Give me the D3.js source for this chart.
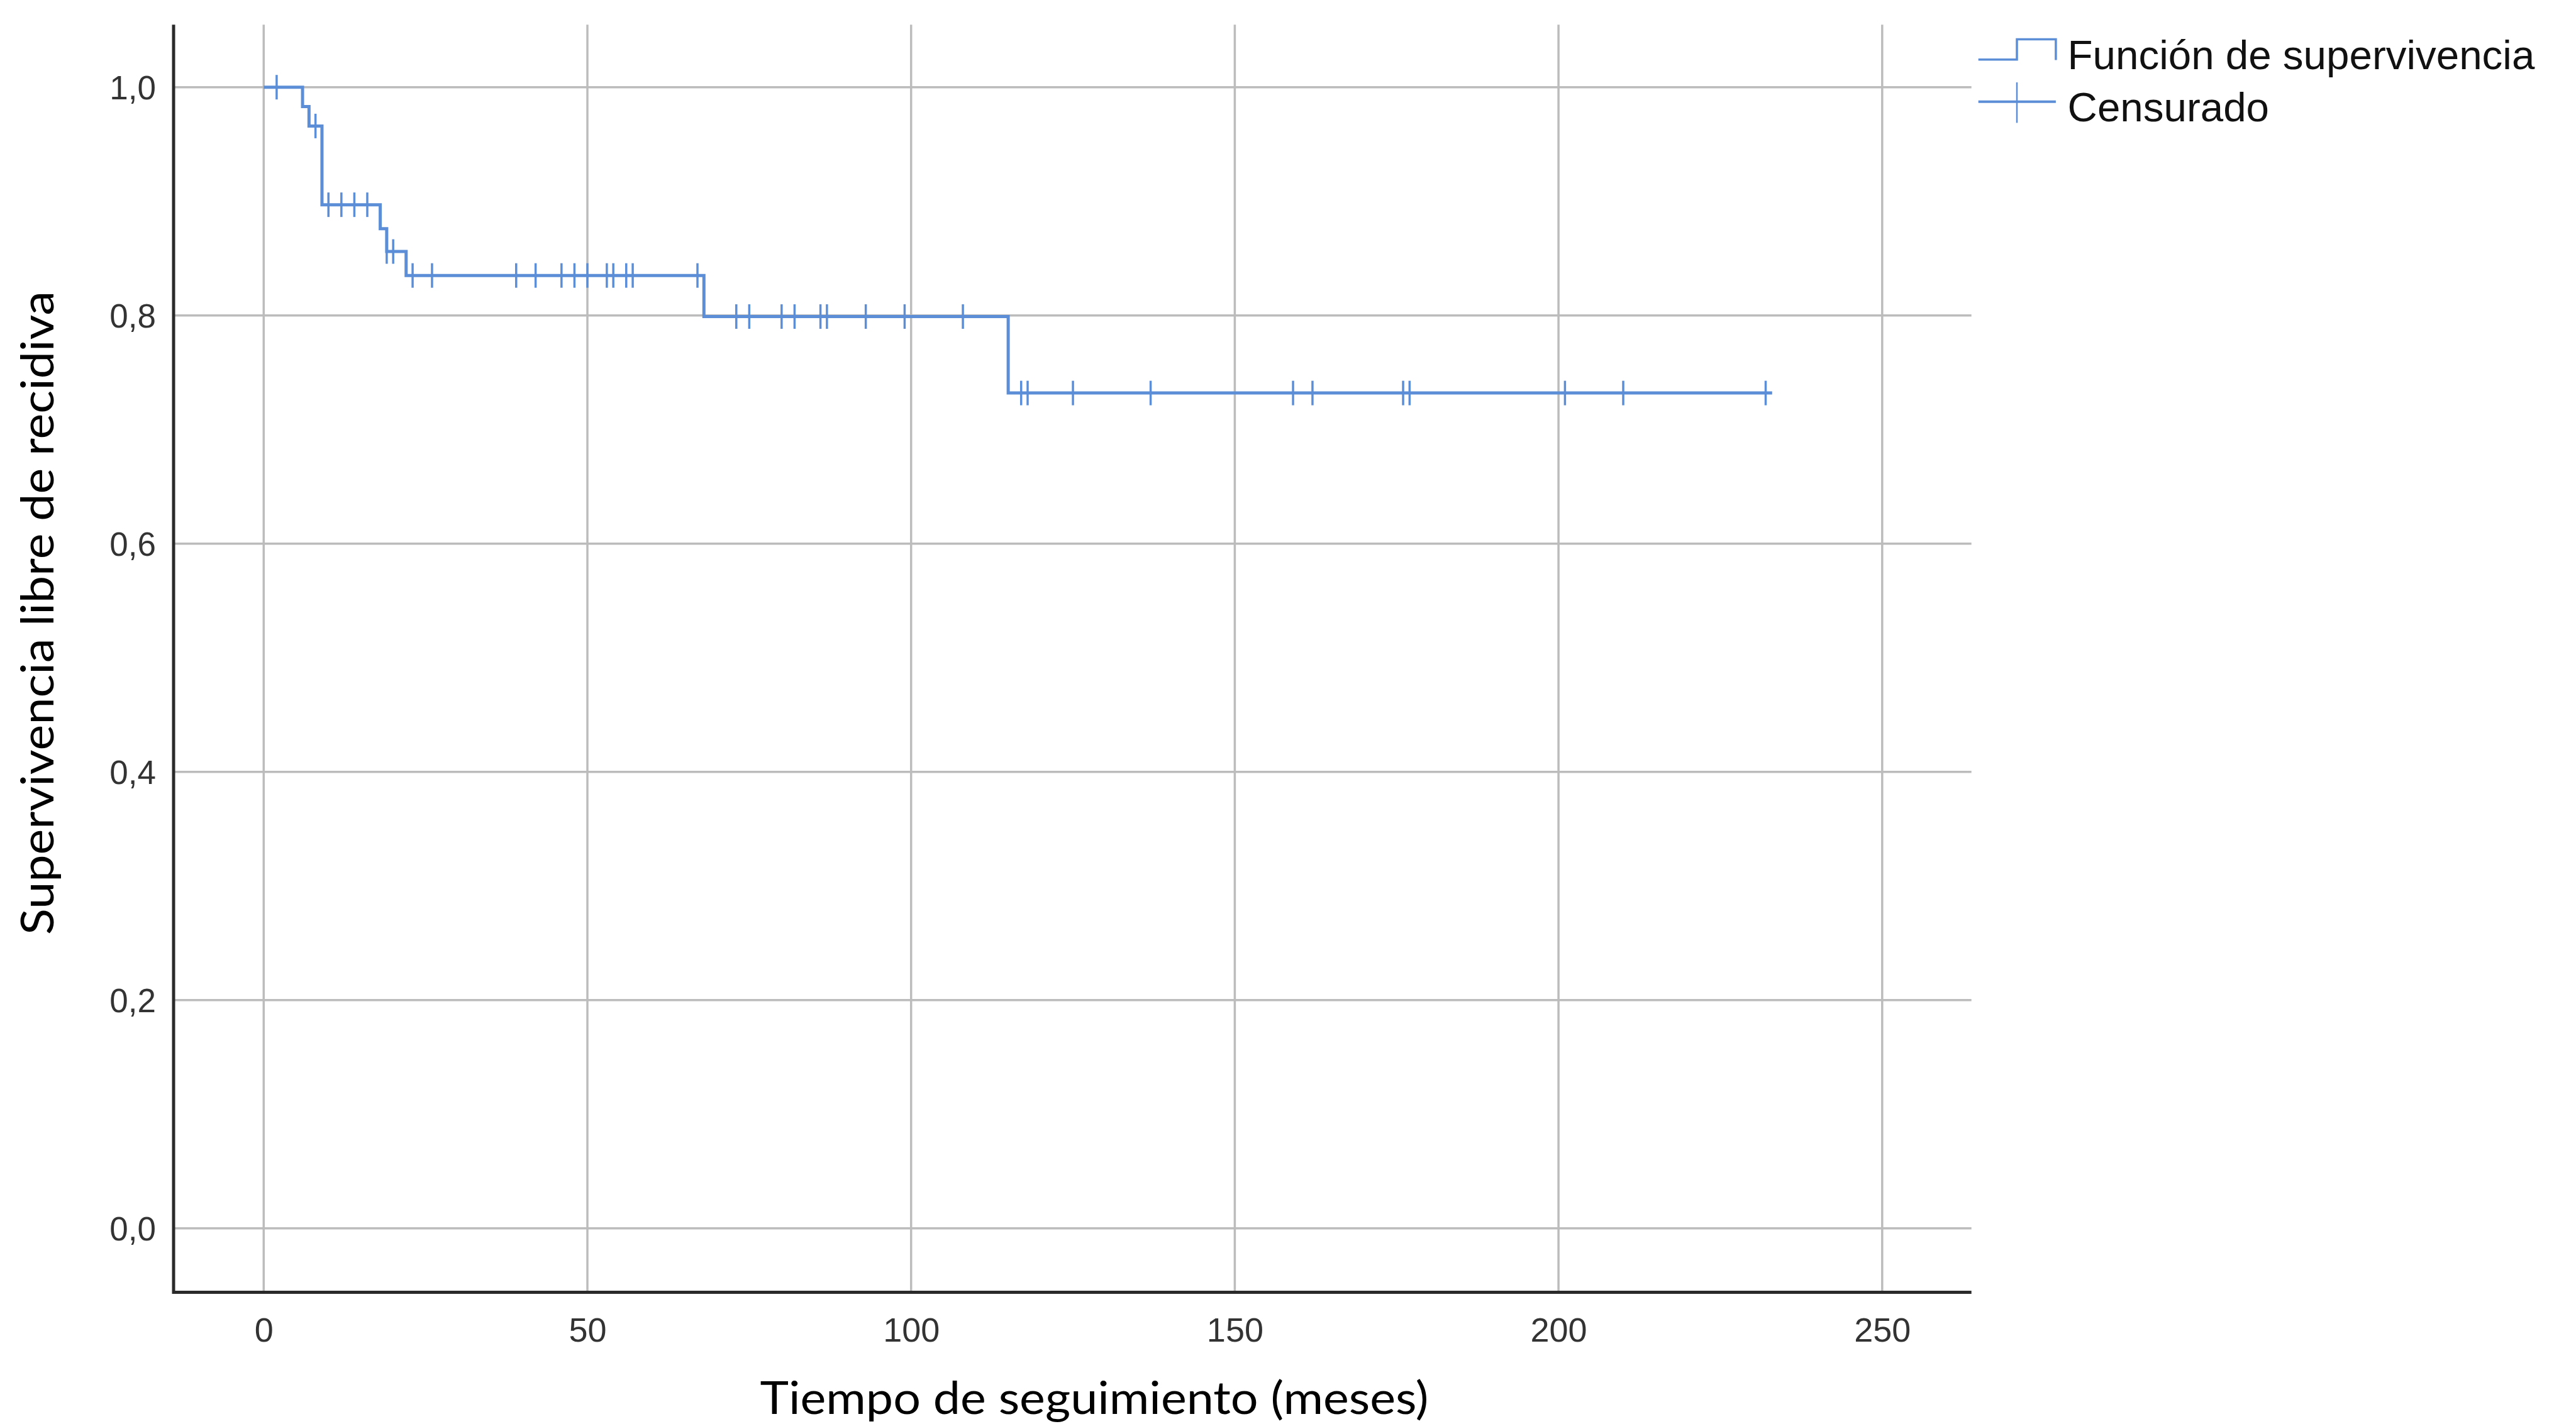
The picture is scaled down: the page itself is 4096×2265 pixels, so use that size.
<!DOCTYPE html>
<html>
<head>
<meta charset="utf-8">
<script src="https://cdn.jsdelivr.net/npm/d3@7"></script>
<style>
  html, body { margin: 0; padding: 0; background: #ffffff; }
  svg { display: block; }
</style>
</head>
<body>
<script>
// ---- Data ----
const stepTimes = [0, 6, 7, 9, 18, 19, 22, 68, 115];
const stepSurvival = [1.0, 0.983, 0.966, 0.897, 0.876, 0.856, 0.835, 0.799, 0.732];
const lastTime = 233;
const censorTimes = [2, 8, 10, 12, 14, 16, 19, 20, 23, 26, 39, 42, 46, 48, 50, 53, 54, 56, 57, 67,
                     73, 75, 80, 82, 86, 87, 93, 99, 108, 117, 118, 125, 137, 159, 162, 176, 177, 201, 210, 232];
const xTicks = [0, 50, 100, 150, 200, 250];
const xTickLabels = ["0", "50", "100", "150", "200", "250"];
const yTicks = [0, 0.2, 0.4, 0.6, 0.8, 1.0];
const yTickLabels = ["0,0", "0,2", "0,4", "0,6", "0,8", "1,0"];
const legendLabels = ["Función de supervivencia", "Censurado"];
const xTitle = "Tiempo de seguimiento (meses)";
const yTitle = "Supervivencia libre de recidiva";

// ---- Layout ----
const W = 4096, H = 2265;
const blue = "#5b8ed6";
const gridColor = "#bcbcbc";
const axisColor = "#2a2a2a";
const axisX = 276, plotTop = 39.3, axisY = 2055.6, plotRight = 3134.7;

const x = d3.scaleLinear().domain([0, 250]).range([419.3, 2992.8]);
const y = d3.scaleLinear().domain([0, 1]).range([1953.7, 138.7]);

const svg = d3.select("body").append("svg")
  .attr("width", W).attr("height", H)
  .attr("viewBox", `0 0 ${W} ${H}`);

// Gridlines
const grid = svg.append("g");
grid.selectAll("line.h").data(yTicks).join("line")
  .attr("x1", axisX).attr("x2", plotRight)
  .attr("y1", d => y(d)).attr("y2", d => y(d))
  .attr("stroke", gridColor).attr("stroke-width", 3.5);
grid.selectAll("line.v").data(xTicks).join("line")
  .attr("x1", d => x(d)).attr("x2", d => x(d))
  .attr("y1", plotTop).attr("y2", axisY)
  .attr("stroke", gridColor).attr("stroke-width", 3.5);

// Axes (labels via d3 axes)
const yAxis = d3.axisLeft(y).tickValues(yTicks)
  .tickFormat((d, i) => yTickLabels[i]).tickSize(0).tickPadding(28);
const gy = svg.append("g").attr("transform", `translate(${axisX},0)`).call(yAxis);
gy.select(".domain").remove();
gy.selectAll("text")
  .attr("font-family", "'Liberation Sans', Arial, sans-serif")
  .attr("font-size", 53).attr("fill", "#333333").attr("dy", "0.36em");

const xAxis = d3.axisBottom(x).tickValues(xTicks)
  .tickFormat((d, i) => xTickLabels[i]).tickSize(0);
const gx = svg.append("g").attr("transform", `translate(0,${axisY})`).call(xAxis);
gx.select(".domain").remove();
gx.selectAll("text")
  .attr("font-family", "'Liberation Sans', Arial, sans-serif")
  .attr("font-size", 54).attr("fill", "#333333")
  .attr("y", 78).attr("dy", 0);

// Axis lines
svg.append("line").attr("x1", axisX).attr("x2", axisX)
  .attr("y1", plotTop).attr("y2", axisY + 2.5)
  .attr("stroke", axisColor).attr("stroke-width", 5);
svg.append("line").attr("x1", axisX).attr("x2", plotRight)
  .attr("y1", axisY).attr("y2", axisY)
  .attr("stroke", axisColor).attr("stroke-width", 5);

// Survival step curve
const pts = stepTimes.map((t, i) => [t, stepSurvival[i]]);
pts.push([lastTime, stepSurvival[stepSurvival.length - 1]]);
const line = d3.line().x(d => x(d[0])).y(d => y(d[1])).curve(d3.curveStepAfter);
svg.append("path").attr("d", line(pts))
  .attr("fill", "none").attr("stroke", blue).attr("stroke-width", 5);

// Censor marks
function survAt(t) {
  let s = stepSurvival[0];
  for (let i = 0; i < stepTimes.length; i++) if (stepTimes[i] <= t) s = stepSurvival[i];
  return s;
}
svg.append("g").selectAll("line").data(censorTimes).join("line")
  .attr("x1", d => x(d)).attr("x2", d => x(d))
  .attr("y1", d => y(survAt(d)) - 19.5).attr("y2", d => y(survAt(d)) + 19.5)
  .attr("stroke", blue).attr("stroke-width", 3.5);

// Legend
const lg = svg.append("g");
lg.append("path").attr("d", "M3145.7,94.8 H3207 V62.6 H3268.9 V95.5")
  .attr("fill", "none").attr("stroke", blue).attr("stroke-width", 3.5);
lg.append("line").attr("x1", 3145.7).attr("x2", 3268.9).attr("y1", 161.7).attr("y2", 161.7)
  .attr("stroke", blue).attr("stroke-width", 4);
lg.append("line").attr("x1", 3207).attr("x2", 3207).attr("y1", 131).attr("y2", 195.4)
  .attr("stroke", blue).attr("stroke-width", 2.5);
lg.selectAll("text").data(legendLabels).join("text")
  .attr("x", 3287.6).attr("y", (d, i) => i === 0 ? 109.7 : 192.9)
  .attr("font-family", "'Liberation Sans', Arial, sans-serif")
  .attr("font-size", 65.5).attr("fill", "#111111")
  .text(d => d);

// Axis titles
svg.append("text")
  .attr("transform", "translate(1740,2249)")
  .attr("text-anchor", "middle")
  .attr("font-family", "Lato, 'Open Sans', sans-serif")
  .attr("font-size", 72).attr("fill", "#000")
  .attr("textLength", 1063).attr("lengthAdjust", "spacingAndGlyphs")
  .text(xTitle);
svg.append("text")
  .attr("transform", "translate(85,975) rotate(-90)")
  .attr("text-anchor", "middle")
  .attr("font-family", "Lato, 'Open Sans', sans-serif")
  .attr("font-size", 72).attr("fill", "#000")
  .attr("textLength", 1024).attr("lengthAdjust", "spacingAndGlyphs")
  .text(yTitle);
</script>
</body>
</html>
